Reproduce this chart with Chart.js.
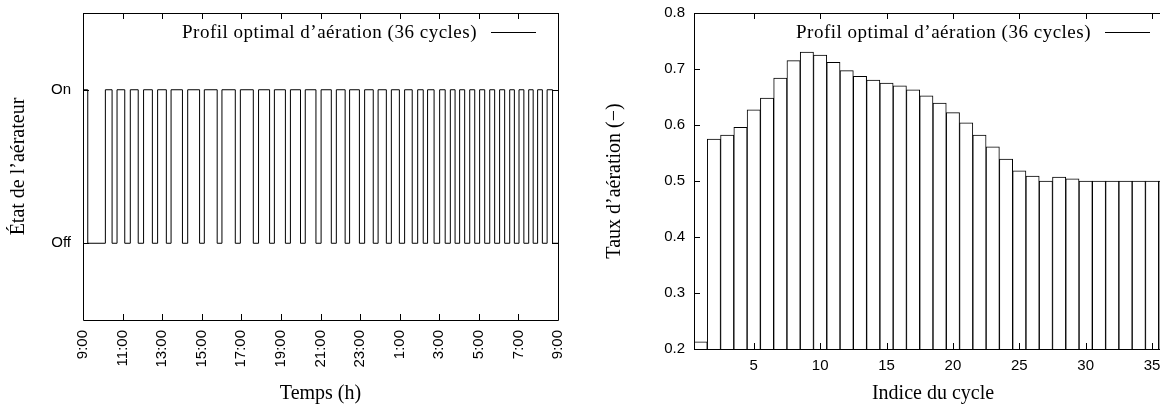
<!DOCTYPE html>
<html>
<head>
<meta charset="utf-8">
<script src="https://cdn.jsdelivr.net/npm/chart.js@4.4.0/dist/chart.umd.min.js"></script>
<style>
  html, body { margin: 0; padding: 0; background: #fff; overflow: hidden; width: 1160px; height: 405px; }
  #profil { position: absolute; left: 0; top: 0; }
  #taux { position: absolute; left: 600px; top: 0; }
</style>
</head>
<body>
<canvas id="profil" width="580" height="405"></canvas>
<canvas id="taux" width="600" height="405"></canvas>
<script>
// aeration rate of each cycle (right chart)
const cycleIndex = [1, 2, 3, 4, 5, 6, 7, 8, 9, 10, 11, 12, 13, 14, 15, 16, 17, 18,
  19, 20, 21, 22, 23, 24, 25, 26, 27, 28, 29, 30, 31, 32, 33, 34, 35, 36];
const aerationRate = [0.213, 0.575, 0.582, 0.596, 0.627, 0.648, 0.684, 0.715, 0.730,
  0.725, 0.712, 0.697, 0.687, 0.680, 0.675, 0.670, 0.663, 0.652, 0.639, 0.622, 0.604,
  0.582, 0.561, 0.539, 0.518, 0.509, 0.500, 0.507, 0.504, 0.500, 0.500, 0.500, 0.500,
  0.500, 0.500, 0.500];

// start of each cycle, hours after 9:00 (left chart)
const cycleStart = [0, 1.13, 1.72, 2.39, 3.06, 3.77, 4.45, 5.29, 6.13, 7.02, 7.95, 8.87,
  9.67, 10.48, 11.23, 12.03, 12.80, 13.47, 14.23, 14.91, 15.58, 16.25, 16.91, 17.41,
  18.02, 18.56, 19.03, 19.54, 20.04, 20.55, 21.05, 21.56, 22.03, 22.52, 22.97, 23.45];
const horizon = 24;

const timeTicks = [0, 2, 4, 6, 8, 10, 12, 14, 16, 18, 20, 22, 24];
const timeLabels = ["9:00", "11:00", "13:00", "15:00", "17:00", "19:00", "21:00",
  "23:00", "1:00", "3:00", "5:00", "7:00", "9:00"];
const stateTicks = [0, 1];
const stateLabels = ["Off", "On"];
const cycleTicks = [5, 10, 15, 20, 25, 30, 35];
const rateTicks = [0.2, 0.3, 0.4, 0.5, 0.6, 0.7, 0.8];

const legendText = "Profil optimal d\u2019a\u00e9ration (36 cycles)";
const serif = "'Liberation Serif', serif";
const sans = "'Liberation Sans', sans-serif";

Chart.defaults.color = "#000";
Chart.defaults.font.family = sans;

// on at the start of a cycle, off after rate * duration
const profile = [];
cycleStart.forEach((s, i) => {
  const end = i + 1 < cycleStart.length ? cycleStart[i + 1] : horizon;
  profile.push({ x: s, y: 1 });
  profile.push({ x: s + aerationRate[i] * (end - s), y: 0 });
});
profile.push({ x: horizon, y: 0 });

// gnuplot look: full frame with tics pointing inward, mirrored
const frameTicks = {
  id: "frameTicks",
  afterDatasetsDraw(chart) {
    const { ctx, chartArea: a, scales } = chart;
    const len = 6;
    ctx.save();
    ctx.strokeStyle = "#000";
    ctx.lineWidth = 1;
    ctx.beginPath();
    scales.x.ticks.forEach((t) => {
      const px = Math.round(scales.x.getPixelForValue(t.value)) + 0.5;
      ctx.moveTo(px, a.bottom); ctx.lineTo(px, a.bottom - len);
      ctx.moveTo(px, a.top); ctx.lineTo(px, a.top + len);
    });
    scales.y.ticks.forEach((t) => {
      const py = Math.round(scales.y.getPixelForValue(t.value)) + 0.5;
      ctx.moveTo(a.left, py); ctx.lineTo(a.left + len, py);
      ctx.moveTo(a.right, py); ctx.lineTo(a.right - len, py);
    });
    ctx.rect(Math.round(a.left) + 0.5, Math.round(a.top) + 0.5,
      Math.round(a.right - a.left), Math.round(a.bottom - a.top));
    ctx.stroke();
    ctx.restore();
  },
  afterDraw(chart) {
    const { ctx, chartArea: a } = chart;
    const y = Math.round(a.top + 19) + 0.5;
    const lineEnd = a.right - 22;
    const lineStart = lineEnd - 45;
    ctx.save();
    ctx.font = "19px " + serif;
    ctx.letterSpacing = "0.5px";
    ctx.fillStyle = "#000";
    ctx.textAlign = "right";
    ctx.textBaseline = "middle";
    ctx.fillText(chart.data.datasets[0].label, lineStart - 14, y + 1);
    ctx.beginPath();
    ctx.moveTo(lineStart, y);
    ctx.lineTo(lineEnd, y);
    ctx.strokeStyle = "#000";
    ctx.lineWidth = 1;
    ctx.stroke();
    ctx.restore();
  },
};

const noGrid = { display: false, drawTicks: false };
const titleFont = { family: serif, size: 20, lineHeight: 1 };
// keep the plot box where it is: no extra room for end labels
const fixX = (h) => (s) => { s.height = h; s.paddingLeft = 0; s.paddingRight = 0; };
const fixY = (w) => (s) => { s.width = w; s.paddingTop = 0; s.paddingBottom = 0; };

new Chart(document.getElementById("profil"), {
  type: "line",
  data: {
    datasets: [{
      label: legendText,
      data: profile,
      stepped: true,
      borderColor: "#000",
      borderWidth: 1,
      pointRadius: 0,
      fill: false,
    }],
  },
  options: {
    responsive: false,
    animation: false,
    layout: { padding: { top: 13, right: 22, left: 0, bottom: 0 } },
    plugins: { legend: { display: false }, tooltip: { enabled: false } },
    scales: {
      x: {
        type: "linear",
        min: 0,
        max: horizon,
        offset: false,
        grid: noGrid,
        border: { display: false },
        afterBuildTicks: (s) => { s.ticks = timeTicks.map((v) => ({ value: v })); },
        afterFit: fixX(85),
        ticks: {
          padding: 10,
          minRotation: 90,
          maxRotation: 90,
          font: { size: 15 },
          callback: (v, i) => timeLabels[i],
        },
        title: { display: true, text: "Temps (h)", font: titleFont, padding: { top: 0, bottom: 1 } },
      },
      y: {
        type: "linear",
        min: -0.5,
        max: 1.5,
        grid: noGrid,
        border: { display: false },
        afterBuildTicks: (s) => { s.ticks = stateTicks.map((v) => ({ value: v })); },
        afterFit: fixY(83),
        ticks: {
          padding: 12,
          font: { size: 15 },
          callback: (v, i) => stateLabels[i],
        },
        title: { display: true, text: "\u00c9tat de l\u2019a\u00e9rateur", font: titleFont, padding: { top: 9, bottom: 0 } },
      },
    },
  },
  plugins: [frameTicks],
});

new Chart(document.getElementById("taux"), {
  type: "bar",
  data: {
    datasets: [{
      label: legendText,
      data: cycleIndex.map((c, i) => ({ x: c, y: aerationRate[i] })),
      backgroundColor: "#fff",
      borderColor: "#000",
      borderWidth: 1,
      barPercentage: 1,
      categoryPercentage: 1,
    }],
  },
  options: {
    responsive: false,
    animation: false,
    layout: { padding: { top: 13, right: 28, left: 0, bottom: 0 } },
    plugins: { legend: { display: false }, tooltip: { enabled: false } },
    scales: {
      x: {
        type: "linear",
        min: 0.5,
        max: 36.5,
        offset: false,
        grid: noGrid,
        border: { display: false },
        afterBuildTicks: (s) => { s.ticks = cycleTicks.map((v) => ({ value: v })); },
        afterFit: fixX(56),
        ticks: { padding: 8, maxRotation: 0, font: { size: 15 }, callback: (v) => String(v) },
        title: { display: true, text: "Indice du cycle", font: titleFont, padding: { top: 0, bottom: 1 } },
      },
      y: {
        type: "linear",
        min: 0.2,
        max: 0.8,
        grid: noGrid,
        border: { display: false },
        afterBuildTicks: (s) => { s.ticks = rateTicks.map((v) => ({ value: v })); },
        afterFit: fixY(94),
        ticks: { padding: 9, font: { size: 15 }, callback: (v) => v.toFixed(1) },
        title: { display: true, text: "Taux d\u2019a\u00e9ration (\u2212)", font: titleFont, padding: { top: 5, bottom: 0 } },
      },
    },
  },
  plugins: [frameTicks],
});
</script>
</body>
</html>
